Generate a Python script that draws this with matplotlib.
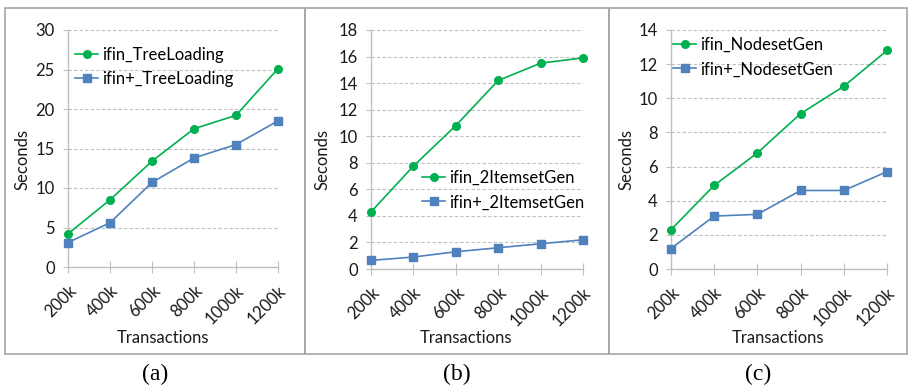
import matplotlib
matplotlib.use('Agg')
from matplotlib import pyplot as plt
from matplotlib.patches import Rectangle

plt.rcParams['font.family'] = ['Lato', 'DejaVu Sans']

categories = ['200k', '400k', '600k', '800k', '1000k', '1200k']

tree_ifin = [4.2, 8.5, 13.4, 17.5, 19.2, 25.1]
tree_ifin_plus = [3.1, 5.6, 10.7, 13.8, 15.5, 18.5]

itemset_ifin = [4.3, 7.75, 10.8, 14.2, 15.5, 15.9]
itemset_ifin_plus = [0.65, 0.9, 1.3, 1.6, 1.9, 2.2]

nodeset_ifin = [2.3, 4.9, 6.8, 9.1, 10.7, 12.8]
nodeset_ifin_plus = [1.2, 3.1, 3.2, 4.6, 4.6, 5.7]

W, H = 908, 388
GREEN = '#00B050'
BLUE = '#4F81BD'
GRAY = '#BFBFBF'
TXT = '#1a1a1a'


def px(x0, x1, y_top, y_bot):
    return [x0 / W, 1 - y_bot / H, (x1 - x0) / W, (y_bot - y_top) / H]


panels = [
    dict(rect=px(68, 278, 30, 267), box=(5, 8, 305, 354),
         s1=tree_ifin, s2=tree_ifin_plus, ymax=30, step=5,
         names=('ifin_TreeLoading', 'ifin+_TreeLoading'),
         leg=(75, 47), tag='(a)', xl=163, yl=22),
    dict(rect=px(371, 583, 30, 269), box=(305, 8, 609, 354),
         s1=itemset_ifin, s2=itemset_ifin_plus, ymax=18, step=2,
         names=('ifin_2ItemsetGen', 'ifin+_2ItemsetGen'),
         leg=(422, 170), tag='(b)', xl=466, yl=322),
    dict(rect=px(671, 887, 30, 269), box=(609, 8, 907, 354),
         s1=nodeset_ifin, s2=nodeset_ifin_plus, ymax=14, step=2,
         names=('ifin_NodesetGen', 'ifin+_NodesetGen'),
         leg=(673, 37), tag='(c)', xl=778, yl=626),
]

fig = plt.figure(figsize=(W / 100, H / 100), dpi=100)

for p in panels:
    x0, y0, x1, y1 = p['box']
    fig.patches.append(Rectangle((x0 / W, 1 - y1 / H), (x1 - x0) / W, (y1 - y0) / H,
                                 transform=fig.transFigure, fill=False,
                                 edgecolor='#A6A6A6', linewidth=1.2))

    ax = fig.add_axes(p['rect'])
    xs = range(len(categories))
    ax.plot(xs, p['s1'], color=GREEN, marker='o', markersize=5.5, linewidth=1.2,
            label=p['names'][0], clip_on=False, zorder=4)
    ax.plot(xs, p['s2'], color=BLUE, marker='s', markersize=5.5, linewidth=1.2,
            label=p['names'][1], clip_on=False, zorder=3)

    ax.set_xlim(0, len(categories) - 1)
    ax.set_ylim(0, p['ymax'])
    ax.set_yticks(range(0, p['ymax'] + 1, p['step']))
    ax.set_xticks(list(xs))
    ax.set_xticklabels(categories, rotation=45, ha='right', rotation_mode='anchor')

    ax.yaxis.grid(True, linestyle=(0, (3, 2)), color=GRAY, linewidth=0.8)
    ax.set_axisbelow(True)
    for side in ('top', 'right'):
        ax.spines[side].set_visible(False)
    for side in ('left', 'bottom'):
        ax.spines[side].set_color(GRAY)
        ax.spines[side].set_linewidth(1.0)
    ax.tick_params(axis='y', length=3.6, color=GRAY, labelsize=12, pad=6, labelcolor=TXT)
    ax.tick_params(axis='x', direction='inout', length=8.5, color=GRAY, labelsize=12,
                   pad=7, labelcolor=TXT)

    ax.set_ylabel('Seconds', fontsize=12, color=TXT, va='center')
    ax.yaxis.set_label_coords(p['yl'] / W, 1 - 160 / H, transform=fig.transFigure)
    ax.set_xlabel('Transactions', fontsize=12, color=TXT, va='center')
    ax.xaxis.set_label_coords(p['xl'] / W, 1 - 338 / H, transform=fig.transFigure)

    lx, ly = p['leg']
    ax.legend(loc='upper left', bbox_to_anchor=(lx / W, 1 - ly / H),
              bbox_transform=fig.transFigure, frameon=False, fontsize=12,
              handlelength=1.4, handletextpad=0.2, borderaxespad=0, borderpad=0,
              labelspacing=0.5)

    fig.text((x0 + x1) / 2 / W, 1 - 374 / H, p['tag'], ha='center', va='center',
             fontsize=17, family='Liberation Serif')

fig.savefig('out.png', dpi=100)
